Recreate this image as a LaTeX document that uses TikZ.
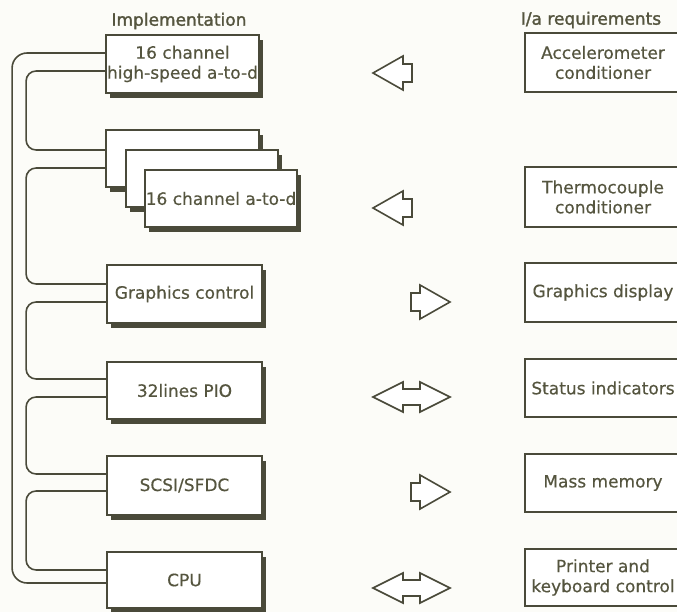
\documentclass[tikz,border=0pt]{standalone}
\usepackage{fontspec}
\setmainfont{DejaVu Sans}
\newfontfamily\hdfont[FakeBold=1.6]{DejaVu Sans}
\newfontfamily\bxfont[FakeBold=0.4]{DejaVu Sans}
\usetikzlibrary{shadows}
\definecolor{ink}{HTML}{4A4A3A}
\definecolor{txt}{HTML}{55553F}
\definecolor{paper}{HTML}{FCFCF8}
\tikzset{
  lbox/.style={draw=ink, line width=1.8pt, fill=white, inner sep=0pt, align=center,
    text=txt, font=\bxfont\fontsize{17}{20}\selectfont,
    drop shadow={shadow xshift=4pt, shadow yshift=-5pt, fill=ink, opacity=1}},
  rbox/.style={draw=ink, line width=1.8pt, fill=white, inner sep=0pt, align=center,
    text=txt, font=\bxfont\fontsize{17}{20}\selectfont},
  bus/.style={draw=ink, line width=1.6pt},
  fat/.style={draw=ink, line width=1.6pt, line join=miter, fill=white},
  title/.style={text=txt, font=\hdfont\fontsize{17}{20}\selectfont}
}
\begin{document}
\begin{tikzpicture}[x=1pt, y=-1pt]
\clip (0,0) rectangle (677,612);
\fill[paper] (0,0) rectangle (677,612);

% titles
\node[title] (t1) at (179,21) {Implementation};
\node[title] (t2) at (591,20) {I/a requirements};

% left boxes
\node[lbox, minimum width=153pt, minimum height=58pt] (b1) at (182.5,64) {16 channel\\high-speed a-to-d};
\node[lbox, minimum width=153pt, minimum height=57pt] (s1) at (182.5,158.5) {};
\node[lbox, minimum width=152pt, minimum height=57pt] (s2) at (202,178.5) {};
\node[lbox, minimum width=152pt, minimum height=57pt] (s3) at (221,198.5) {16 channel a-to-d};
\node[lbox, minimum width=155pt, minimum height=58pt] (gc) at (184.5,294) {Graphics control};
\node[lbox, minimum width=155pt, minimum height=57pt] (pio) at (184.5,390.5) {32lines PIO};
\node[lbox, minimum width=155pt, minimum height=59pt] (scsi) at (184.5,485.5) {SCSI/SFDC};
\node[lbox, minimum width=155pt, minimum height=56pt] (cpu) at (184.5,580) {CPU};

% right boxes (cut off at right edge)
\node[rbox, minimum width=156pt, minimum height=59pt] (acc) at (603,62.5) {Accelerometer\\conditioner};
\node[rbox, minimum width=156pt, minimum height=60pt] (thc) at (603,197) {Thermocouple\\conditioner};
\node[rbox, minimum width=156pt, minimum height=59pt] (gd) at (603,292.5) {Graphics display};
\node[rbox, minimum width=156pt, minimum height=58pt] (st) at (603,388) {Status indicators};
\node[rbox, minimum width=156pt, minimum height=58pt] (mm) at (603,483) {Mass memory};
\node[rbox, minimum width=156pt, minimum height=57pt] (pk) at (603,577.5) {Printer and\\keyboard control};

% bus lines
\draw[bus, rounded corners=15pt] ([yshift=11pt]b1.west) -- ++(-93,0) |- ([yshift=-3pt]cpu.west);
\draw[bus, rounded corners=10pt] ([yshift=-7pt]b1.west) -- ++(-79,0) |- ([yshift=8.5pt]s1.west);
\draw[bus, rounded corners=10pt] ([yshift=-9.5pt]s1.west) -- ++(-79,0) |- ([yshift=10pt]gc.west);
\draw[bus, rounded corners=10pt] ([yshift=-8pt]gc.west) -- ++(-80,0) |- ([yshift=11.5pt]pio.west);
\draw[bus, rounded corners=10pt] ([yshift=-6.5pt]pio.west) -- ++(-80,0) |- ([yshift=11.5pt]scsi.west);
\draw[bus, rounded corners=10pt] ([yshift=-5.5pt]scsi.west) -- ++(-80,0) |- ([yshift=10pt]cpu.west);

% fat arrows
\coordinate (a1) at (373,73);
\coordinate (a2) at (373,208);
\coordinate (a3) at (450,302);
\coordinate (a4) at (373,397);
\coordinate (a5) at (450,492);
\coordinate (a6) at (373,588);
\draw[fat] (a1) -- ++(30,-17) -- ++(0,8) -- ++(9,0) -- ++(0,18) -- ++(-9,0) -- ++(0,8) -- cycle;
\draw[fat] (a2) -- ++(30,-17) -- ++(0,8) -- ++(9,0) -- ++(0,18) -- ++(-9,0) -- ++(0,8) -- cycle;
\draw[fat] (a3) -- ++(-30,-17) -- ++(0,8) -- ++(-9,0) -- ++(0,18) -- ++(9,0) -- ++(0,8) -- cycle;
\draw[fat] (a5) -- ++(-30,-17) -- ++(0,8) -- ++(-9,0) -- ++(0,18) -- ++(9,0) -- ++(0,8) -- cycle;
\draw[fat] (a4) -- ++(30,-15) -- ++(0,7) -- ++(17,0) -- ++(0,-7) -- ++(30,15) -- ++(-30,15) -- ++(0,-7) -- ++(-17,0) -- ++(0,7) -- cycle;
\draw[fat] (a6) -- ++(30,-15) -- ++(0,7) -- ++(17,0) -- ++(0,-7) -- ++(30,15) -- ++(-30,15) -- ++(0,-7) -- ++(-17,0) -- ++(0,7) -- cycle;
\end{tikzpicture}
\end{document}
